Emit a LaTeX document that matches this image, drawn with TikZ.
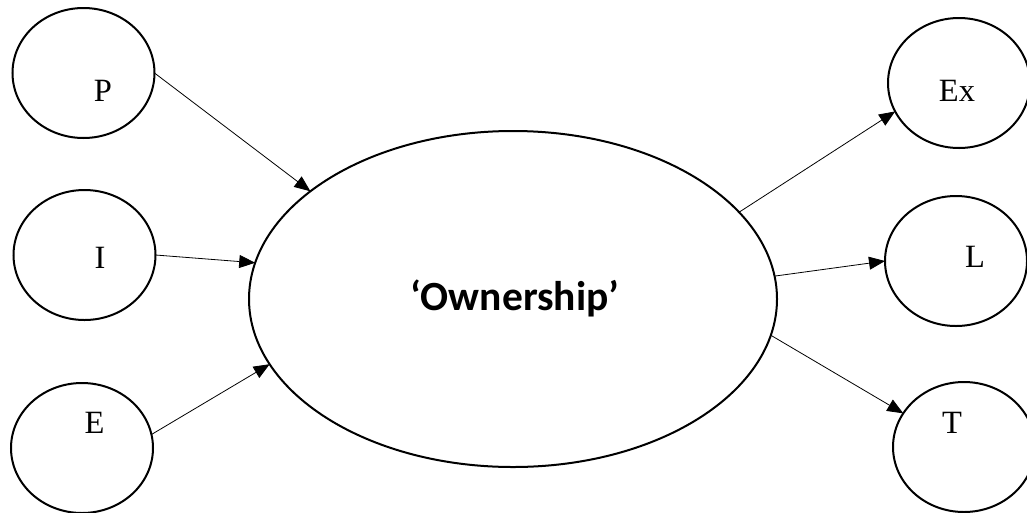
\documentclass[tikz,border=0pt]{standalone}
\usepackage{fontspec}
\setmainfont{Liberation Serif}
\newfontfamily\calibri{Carlito}
\usetikzlibrary{shapes.geometric,arrows.meta}

\begin{document}
\begin{tikzpicture}[x=1pt,y=-1pt,
        bubble/.style={ellipse,draw,line width=2pt,inner sep=0pt,outer sep=0pt,
            minimum width=142pt,minimum height=130pt},
        letter/.style={inner sep=0pt,font=\fontsize{32.5}{38}\selectfont},
        link/.style={line width=0.8pt,-{Triangle[length=16pt,width=13pt]}}]
        
        \useasboundingbox (0,0) rectangle (1027,512);
        
        \node[ellipse,draw,line width=2pt,inner sep=0pt,outer sep=0pt,
            minimum width=528pt,minimum height=336pt] (own) at (513,299) {};
        \node[inner sep=0pt,font=\calibri\bfseries\fontsize{41.5}{48}\selectfont]
            (ownlabel) at (515,298) {‘Ownership’};
        
        \node[bubble] (P) at (83.5,73) {};
        \node[bubble] (I) at (84.5,255) {};
        \node[bubble] (E) at (82,448) {};
        \node[bubble] (Ex) at (959,83) {};
        \node[bubble] (L) at (956,261) {};
        \node[bubble] (T) at (964,447) {};
        
        \node[letter] (Ptext) at (103,91) {P};
        \node[letter] (Itext) at (100,258) {I};
        \node[letter] (Etext) at (94.5,423) {E};
        \node[letter] (Extext) at (957,91) {Ex};
        \node[letter] (Ltext) at (975,257) {L};
        \node[letter] (Ttext) at (952,423) {T};
        
        \draw[link] (P.east) -- (own.152.4);
        \draw[link] (I.east) -- (own.172.1);
        \draw[link] (E.11) -- (own.195.5);
        \draw[link] (own.21.9) -- (Ex.204.8);
        \draw[link] (own.5.7) -- (L.west);
        \draw[link] (own.-8.8) -- (T.151.7);
        
    \end{tikzpicture}
\end{document}
